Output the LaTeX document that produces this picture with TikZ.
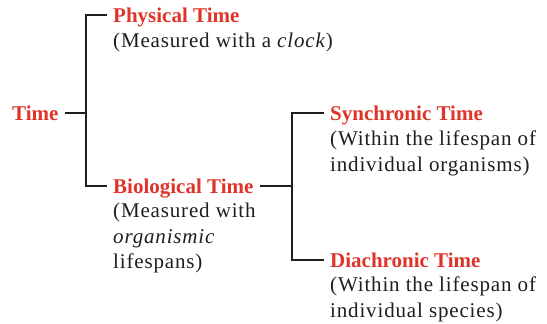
\documentclass[tikz,border=0pt]{standalone}
\usepackage{fontspec}
\setmainfont{Liberation Serif}
\newfontfamily\loosefont[LetterSpace=4]{Liberation Serif}
\definecolor{titlered}{RGB}{222,52,42}
\definecolor{ink}{RGB}{30,30,30}
\begin{document}
\begin{tikzpicture}[x=1pt,y=-1pt,
  title/.style={font=\fontsize{21}{25.5}\selectfont\bfseries, text=titlered,
    inner xsep=6.5pt, inner ysep=0pt, text height=14pt, text depth=0pt},
  desc/.style={font=\fontsize{21}{25.5}\selectfont\loosefont, text=ink,
    inner sep=0pt, align=left, anchor=north west},
  conn/.style={draw=ink, line width=1.3pt}]
\useasboundingbox (0,0) rectangle (547,324);
\node[title, anchor=base west] (time) at (5.5,120) {Time};
\node[title, anchor=base west] (phys) at (106.5,22) {Physical Time};
\node[title, anchor=base west] (bio) at (106.5,193) {Biological Time};
\node[title, anchor=base west] (syn) at (323.5,120) {Synchronic Time};
\node[title, anchor=base west] (dia) at (323.5,267) {Diachronic Time};
\node[desc] (physd) at (113,33) {(Measured with a \textit{clock})};
\node[desc] (biod) at (113,203) {(Measured with\\\textit{organismic}\\lifespans)};
\node[desc] (synd) at (330,131) {(Within the lifespan of\\individual organisms)};
\node[desc] (diad) at (330,277) {(Within the lifespan of\\individual species)};
\coordinate (v1) at (86,0);
\coordinate (v2) at (292,0);
\draw[conn] (time.east) -- (time.east -| v1);
\draw[conn] (phys.west) -| (v1 |- bio.west) -- (bio.west);
\draw[conn] (bio.east) -- (bio.east -| v2);
\draw[conn] (syn.west) -| (v2 |- dia.west) -- (dia.west);
\end{tikzpicture}
\end{document}
